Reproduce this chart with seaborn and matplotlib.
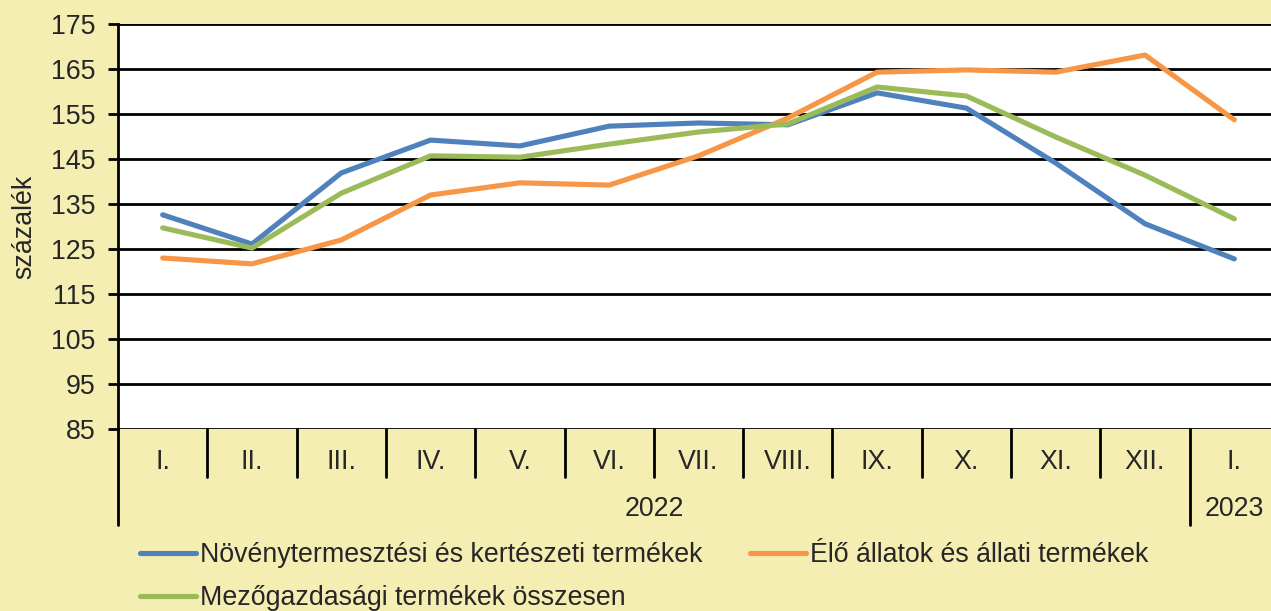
import matplotlib
matplotlib.use("Agg")
import matplotlib.pyplot as plt
import seaborn as sns
import pandas as pd
import numpy as np

months = ["I.", "II.", "III.", "IV.", "V.", "VI.", "VII.", "VIII.", "IX.", "X.", "XI.", "XII.", "I."]
years = ["2022", "2023"]
year_spans = [(0, 11), (12, 12)]

series_names = [
    "Növénytermesztési és kertészeti termékek",
    "Élő állatok és állati termékek",
    "Mezőgazdasági termékek összesen",
]
noveny = [132.6, 126.1, 141.9, 149.2, 147.9, 152.3, 153.0, 152.6, 159.7, 156.3, 144.1, 130.6, 122.8]
allat = [123.0, 121.7, 127.0, 137.0, 139.7, 139.2, 145.7, 154.1, 164.3, 164.8, 164.3, 168.1, 153.7]
osszes = [129.7, 125.2, 137.4, 145.7, 145.4, 148.3, 151.0, 152.8, 161.0, 159.0, 149.9, 141.4, 131.7]

yticks = list(range(85, 176, 10))
ylabel = "százalék"

colors = ["#4F81BD", "#F79646", "#9BBB59"]
bg = "#F4EEB3"
FS = 19.3

sns.set_style("white")
plt.rcParams["font.family"] = ["Liberation Sans", "DejaVu Sans"]

df = pd.DataFrame({
    "x": list(range(len(months))) * 3,
    "value": noveny + allat + osszes,
    "series": [series_names[0]] * len(months) + [series_names[1]] * len(months) + [series_names[2]] * len(months),
})

W, H = 1271, 611
fig = plt.figure(figsize=(W / 100, H / 100), dpi=100, facecolor=bg)
left_px, right_px, top_px, bot_px = 118, 1279, 24, 429
ax = fig.add_axes([left_px / W, 1 - bot_px / H, (right_px - left_px) / W, (bot_px - top_px) / H])
ax.set_facecolor("white")

sns.lineplot(data=df, x="x", y="value", hue="series", hue_order=series_names,
             palette=colors, linewidth=3.7, ax=ax, legend=False, zorder=3)

ax.set_ylim(85, 175)
ax.set_xlim(-0.5, len(months) - 0.5)
ax.set_yticks(yticks)
ax.set_yticklabels([str(v) for v in yticks], fontsize=FS)
ax.yaxis.grid(True, color="black", linewidth=2.0, zorder=1)
ax.set_axisbelow(True)
ax.tick_params(axis="y", length=7, width=2, color="black", pad=9, left=True)
for s in ["top", "right", "bottom"]:
    ax.spines[s].set_visible(False)
ax.spines["left"].set_color("black")
ax.spines["left"].set_linewidth(2)
ax.set_ylabel(ylabel, fontsize=FS, labelpad=10)
ax.set_xlabel("")

# x-axis: month labels, separators
ax.set_xticks([])
trans = ax.get_xaxis_transform()
axh = bot_px - top_px
for i, m in enumerate(months):
    ax.text(i, -33 / axh, m, transform=trans, ha="center", va="center", fontsize=FS)
long_seps = [-0.5] + [s[0] - 0.5 for s in year_spans[1:]]
for i in range(len(months)):
    xs = i - 0.5
    y_end = -96 / axh if xs in long_seps else -48 / axh
    ax.plot([xs, xs], [0, y_end], transform=trans, color="black", linewidth=2, clip_on=False)
for yr, (a, b) in zip(years, year_spans):
    ax.text((a + b) / 2, -80 / axh, yr, transform=trans, ha="center", va="center", fontsize=FS)

# legend
from matplotlib.lines import Line2D
handles = [Line2D([0], [0], color=c, linewidth=3.7, solid_capstyle="round") for c in colors]
order = [0, 2, 1]
fig.legend([handles[i] for i in order], [series_names[i] for i in order],
           loc="upper left", bbox_to_anchor=(140 / W, 1 - 542 / H), ncol=2,
           frameon=False, fontsize=FS, handlelength=2.1, handletextpad=0.15,
           columnspacing=1.75, labelspacing=0.65, borderpad=0, borderaxespad=0)

fig.savefig("out.png", dpi=100, facecolor=bg)
